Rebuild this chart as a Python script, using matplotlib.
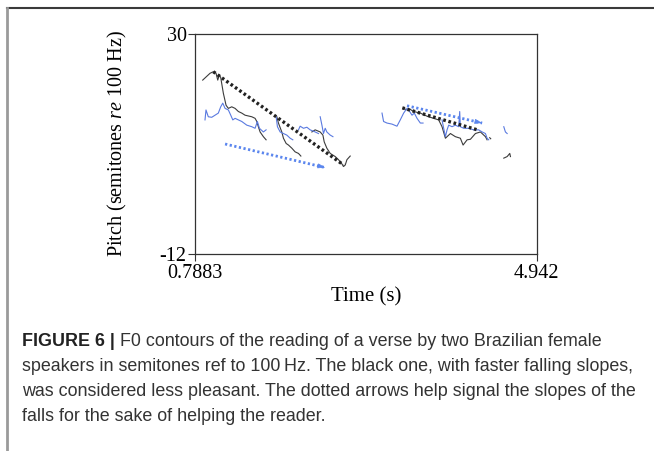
import numpy as np
import matplotlib
matplotlib.use('Agg')
import matplotlib.pyplot as plt
from matplotlib.lines import Line2D

plt.rcParams['font.family'] = ['Liberation Serif', 'DejaVu Serif']
plt.rcParams['mathtext.fontset'] = 'custom'
plt.rcParams['mathtext.it'] = 'Liberation Serif:italic'
plt.rcParams['mathtext.rm'] = 'Liberation Serif'

# ---------------------------------------------------------------
# F0 contours (time in s, pitch in semitones re 100 Hz)

# black speaker
black_t = [
    [0.882, 0.971, 1.011, 1.044, 1.065, 1.084, 1.101, 1.133, 1.166, 1.194, 1.235, 1.276,
     1.316, 1.357, 1.397, 1.479, 1.519, 1.540, 1.559, 1.580, 1.620, 1.653],
    [1.784, 1.803, 1.844, 1.864, 1.897, 1.925, 1.966, 2.006, 2.047, 2.076],
    [2.210, 2.250, 2.311, 2.344, 2.360, 2.392, 2.433, 2.494, 2.534, 2.575, 2.595, 2.616,
     2.636, 2.676],
    [3.326, 3.367, 3.407, 3.447, 3.529, 3.611, 3.691, 3.752, 3.793, 3.834, 3.895, 3.955,
     4.016, 4.049, 4.098, 4.138, 4.199, 4.260, 4.321, 4.341],
    [4.373, 4.385],
    [4.544, 4.585, 4.617, 4.625],
]
black_f = [
    [21.2, 22.5, 22.8, 22.5, 21.2, 22.2, 21.7, 18.7, 16.4, 15.8, 16.1, 15.8,
     15.2, 14.9, 14.5, 14.2, 13.9, 13.3, 12.3, 11.3, 10.4, 9.8],
    [14.2, 13.0, 11.3, 10.1, 9.1, 8.8, 8.2, 7.5, 7.2, 6.7],
    [11.3, 11.7, 11.3, 10.7, 9.4, 8.2, 7.2, 6.6, 6.0, 5.2, 4.7, 5.0,
     6.0, 6.7],
    [15.8, 15.5, 15.6, 15.2, 14.9, 14.3, 13.9, 13.6, 12.3, 10.1, 11.0, 10.4,
     10.1, 8.8, 9.8, 9.9, 11.0, 11.3, 10.4, 9.8],
    [10.2, 10.0],
    [6.3, 6.6, 7.2, 6.6],
]

# blue speaker
blue_t = [
    [0.910, 0.922, 0.950, 0.992, 1.032, 1.072, 1.101, 1.126, 1.154, 1.194, 1.223, 1.248,
     1.276, 1.316, 1.357, 1.418, 1.479, 1.519, 1.547, 1.572, 1.620, 1.653],
    [1.775, 1.791, 1.824, 1.864, 1.905, 1.946, 1.978],
    [2.047, 2.067, 2.108, 2.149, 2.189, 2.250, 2.290],
    [2.311, 2.332, 2.351, 2.372, 2.392, 2.433, 2.466],
    [3.063, 3.082, 3.123, 3.184, 3.245, 3.285, 3.326, 3.367, 3.399, 3.428, 3.456, 3.489,
     3.529, 3.562],
    [3.793, 3.813, 3.834, 3.854, 3.874, 3.915, 3.955, 3.996, 4.008, 4.016, 4.057, 4.117,
     4.178, 4.239, 4.281, 4.321, 4.341, 4.361],
    [4.544, 4.564, 4.585],
]
blue_f = [
    [13.6, 15.5, 14.2, 14.1, 14.5, 14.9, 16.1, 16.8, 15.8, 15.5, 14.5, 13.6,
     13.9, 13.6, 13.3, 12.6, 12.3, 12.0, 13.3, 12.0, 11.3, 11.7],
    [14.2, 12.3, 11.3, 11.0, 10.7, 10.1, 9.8],
    [11.7, 12.4, 12.0, 12.2, 11.7, 11.3, 11.0],
    [14.2, 12.6, 11.0, 12.0, 11.3, 10.7, 10.4],
    [14.9, 13.3, 13.0, 12.8, 12.4, 13.6, 14.9, 15.8, 15.2, 14.5, 14.9, 13.9,
     13.0, 13.0],
    [13.6, 12.0, 10.4, 11.7, 12.6, 12.3, 12.6, 12.3, 15.2, 12.3, 12.0, 12.0,
     11.7, 11.7, 11.3, 11.0, 10.1, 9.8],
    [12.3, 11.3, 11.0],
]

# slope guides: (t0, f0, t1, f1)
black_slopes = [(1.011, 22.8, 2.595, 5.0), (3.310, 15.9, 4.223, 11.7)]
blue_slopes = [(1.154, 9.0, 2.372, 4.5), (3.367, 16.3, 4.281, 13.0)]

xticks = [0.7883, 4.942]
yticks = [-12, 30]

caption_bold = 'FIGURE 6 |'
caption_lines = [
    ' F0 contours of the reading of a verse by two Brazilian female',
    'speakers in semitones ref to 100\u2009Hz. The black one, with faster falling slopes,',
    'was considered less pleasant. The dotted arrows help signal the slopes of the',
    'falls for the sake of helping the reader.',
]

black_col = '#3c3c3c'
blue_col = '#5a7ae0'
arrow_col = '#5b86ee'

# ---------------------------------------------------------------

fig = plt.figure(figsize=(6.54, 4.51), dpi=100)
ax = fig.add_axes([195/654, 1-254/451, (536.5-195)/654, (254-34)/451])

for t, f in zip(black_t, black_f):
    ax.plot(t, f, color=black_col, lw=0.8)
for t, f in zip(blue_t, blue_f):
    ax.plot(t, f, color=blue_col, lw=0.8)

for t0, f0, t1, f1 in black_slopes:
    ax.plot([t0, t1], [f0, f1], color='#222222', lw=2.4, ls=(0, (0.8, 0.8)))

for t0, f0, t1, f1 in blue_slopes:
    ax.plot([t0, t1], [f0, f1], color=arrow_col, lw=2.0, ls=(0, (0.8, 0.9)))
    # small head at the end
    tm = t1 - 0.06 * (t1 - t0)
    fm = f1 - 0.06 * (f1 - f0)
    ax.annotate('', xy=(t1, f1), xytext=(tm, fm),
                arrowprops=dict(arrowstyle='-|>,head_length=0.45,head_width=0.15',
                                color=arrow_col, lw=0.5, shrinkA=0, shrinkB=0))

ax.set_xlim(xticks[0], xticks[1])
ax.set_ylim(yticks[0], yticks[1])
ax.set_xticks(xticks)
ax.set_xticklabels(['0.7883', '4.942'])
ax.set_yticks(yticks)
ax.set_yticklabels(['-12', '30'])
ax.tick_params(direction='out', length=5, width=0.8, color='#333333',
               labelsize=14.5)
ax.tick_params(axis='x', pad=2)
ax.tick_params(axis='y', pad=1)
for s in ax.spines.values():
    s.set_color('#333333')
    s.set_linewidth(0.9)

ax.set_xlabel('Time (s)', fontsize=15, labelpad=3)
ax.set_ylabel(r'Pitch (semitones $\mathit{re}$ 100 Hz)', fontsize=14.5, labelpad=22)

# page border of the figure panel
fig.add_artist(Line2D([7/654, 1], [1-8/451, 1-8/451], transform=fig.transFigure,
                      color='#3a3a3a', lw=1.5))
fig.add_artist(Line2D([7/654, 7/654], [0, 1-8/451], transform=fig.transFigure,
                      color='#9a9a9a', lw=2.0))

# caption
cap_font = ['Liberation Sans', 'DejaVu Sans']
cap_size = 12.9
y0 = 1 - 346/451
dy = 25/451
tb = fig.text(22/654, y0, caption_bold, family=cap_font, fontsize=cap_size,
              fontweight='bold', color='#222222', va='baseline')
fig.canvas.draw()
bb = tb.get_window_extent()
x_after = bb.x1 / fig.bbox.width
fig.text(x_after, y0, caption_lines[0], family=cap_font, fontsize=cap_size,
         color='#333333', va='baseline')
for i, line in enumerate(caption_lines[1:], start=1):
    fig.text(22/654, y0 - i*dy, line, family=cap_font, fontsize=cap_size,
             color='#333333', va='baseline')

fig.savefig('out.png', dpi=100)
